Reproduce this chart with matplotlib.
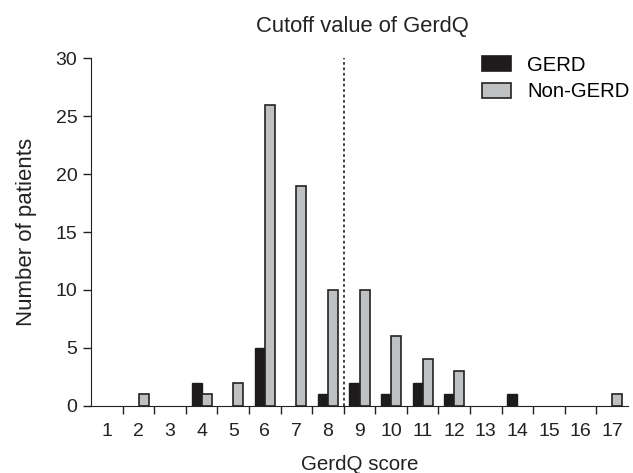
import matplotlib.pyplot as plt
import numpy as np

plt.rcParams['font.family'] = ['Liberation Sans', 'DejaVu Sans']

scores = list(range(1, 18))
gerd = [0, 0, 0, 2, 0, 5, 0, 1, 2, 1, 2, 1, 0, 1, 0, 0, 0]
non_gerd = [0, 1, 0, 1, 2, 26, 19, 10, 10, 6, 4, 3, 0, 0, 0, 0, 1]
cutoff = 8.5

fig = plt.figure(figsize=(6.33, 4.73), dpi=100)
ax = fig.add_axes([0.144, 0.142, 0.848, 0.735])

x = np.array(scores)
w = 0.32
fs = 14
txt = '#222222'
# no outline for empty categories
lw_g = [1 if v > 0 else 0 for v in gerd]
lw_n = [1.2 if v > 0 else 0 for v in non_gerd]
ax.bar(x - w / 2, gerd, width=w, color='#1e1b1c', edgecolor='#1e1b1c', linewidth=lw_g, label='GERD')
ax.bar(x + w / 2, non_gerd, width=w, color='#bfc0c2', edgecolor=txt, linewidth=lw_n, label='Non-GERD')

ax.plot([cutoff, cutoff], [0, 30], color='#333333', linestyle=(0, (1.5, 1.5)), linewidth=1.3)

ax.set_xlim(0.5, 17.5)
ax.set_ylim(0, 30)
ax.set_yticks(range(0, 31, 5))
ax.set_xticks(np.arange(1.5, 17.5, 1))
ax.set_xticklabels([])
ax.set_xticks(scores, minor=True)
ax.set_xticklabels([str(s) for s in scores], minor=True)
ax.tick_params(axis='x', which='minor', length=0, pad=12, labelsize=fs, colors=txt)
ax.tick_params(axis='x', which='major', length=6, width=1, direction='out', color=txt)
ax.tick_params(axis='y', length=6, width=1, labelsize=fs, colors=txt, pad=4)

for side in ['top', 'right']:
    ax.spines[side].set_visible(False)
ax.spines['left'].set_color(txt)
ax.spines['bottom'].set_color(txt)

ax.set_xlabel('GerdQ score', fontsize=14.8, color=txt, labelpad=11)
ax.set_ylabel('Number of patients', fontsize=16, color=txt, labelpad=13)
fig.text(0.573, 0.943, 'Cutoff value of GerdQ', ha='center', va='center', fontsize=15.8, color=txt)

leg = ax.legend(loc='upper right', bbox_to_anchor=(1.037, 1.06), frameon=False, fontsize=14.6,
                handlelength=1.45, handleheight=0.75, handletextpad=0.8, labelspacing=0.38)
for h in leg.legend_handles:
    h.set_linewidth(1.2)

fig.savefig('out.png', dpi=100)
